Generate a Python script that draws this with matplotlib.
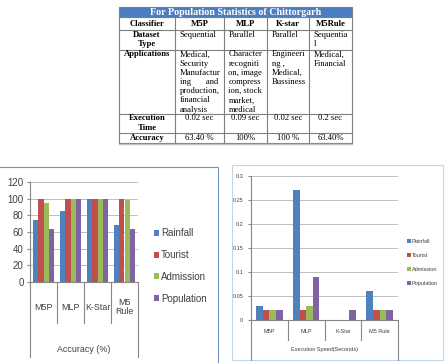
import matplotlib
matplotlib.use('Agg')
import matplotlib.pyplot as plt
import numpy as np
from matplotlib.patches import Rectangle
from matplotlib.ticker import FuncFormatter

# ---- table data ----
table_title = 'For Population Statistics of Chittorgarh'
classifiers = ['M5P', 'MLP', 'K-star', 'M5Rule']
row_labels = ['Dataset\nType', 'Applications', 'Execution\nTime', 'Accuracy']
dataset_type = ['Sequential', 'Parallel', 'Parallel', 'Sequentia\nl']
applications = ['Medical,\nSecurity\nManufactur\ning       and\nproduction,\nfinancial\nanalysis',
                'Character\nrecogniti\non, image\ncompress\nion, stock\nmarket,\nmedical',
                'Engineeri\nng ,\nMedical,\nBussiness',
                'Medical,\nFinancial']
exec_time = ['0.02 sec', '0.09 sec', '0.02 sec', '0.2 sec']
accuracy_txt = ['63.40 %', '100%', '100 %', '63.40%']

# ---- chart data ----
series = ['Rainfall', 'Tourist', 'Admission', 'Population']
colors = ['#4F81BD', '#C0504D', '#9BBB59', '#8064A2']

acc_models = ['M5P', 'MLP', 'K-Star', 'M5\nRule']
acc_rainfall = [74, 85, 100, 68]
acc_tourist = [100, 100, 100, 100]
acc_admission = [95, 100, 100, 98]
acc_population = [63.4, 100, 100, 63.4]

spd_models = ['M5P', 'MLP', 'K-Star', 'M5 Rule']
spd_rainfall = [0.03, 0.27, 0.0, 0.06]
spd_tourist = [0.02, 0.02, 0.0, 0.02]
spd_admission = [0.02, 0.03, 0.0, 0.02]
spd_population = [0.02, 0.09, 0.02, 0.02]

W, H = 445, 363
fig = plt.figure(figsize=(W / 100, H / 100), dpi=100)
sans = 'Liberation Sans'
serif = 'Liberation Serif'

# overlay in pixel coords for table + chart borders
ov = fig.add_axes([0, 0, 1, 1])
ov.set_xlim(0, W)
ov.set_ylim(H, 0)
ov.axis('off')

cols = [119, 175, 224, 267, 309, 352]
rows = [17, 30, 50, 114, 133, 143]
ov.add_patch(Rectangle((cols[0], 7), cols[-1] - cols[0], 10, facecolor='#4A7EC2', edgecolor='#7F7F7F', lw=0.8))
ov.text((cols[0] + cols[-1]) / 2, 12.3, table_title, color='white', fontweight='bold',
        family=serif, fontsize=7.2, ha='center', va='center')
lc = '#7F7F7F'
for y in rows:
    ov.plot([cols[0], cols[-1]], [y, y], color=lc, lw=0.8)
for x in cols:
    ov.plot([x, x], [rows[0], rows[-1]], color=lc, lw=0.8)
ov.plot([cols[0], cols[-1]], [rows[-1] + 0.8, rows[-1] + 0.8], color='#BFBFBF', lw=1.0)

fs = 6.2
ov.text((cols[0] + cols[1]) / 2, 23.5, 'Classifier', family=serif, fontweight='bold', fontsize=fs, ha='center', va='center')
for i, c in enumerate(classifiers):
    ov.text((cols[i + 1] + cols[i + 2]) / 2, 23.5, c, family=serif, fontweight='bold', fontsize=fs, ha='center', va='center')
lab_tops = [31, 50.5, 114.5, 134]
for lab, top in zip(row_labels, lab_tops):
    ov.text((cols[0] + cols[1]) / 2, top, lab, family=serif, fontweight='bold', fontsize=fs,
            ha='center', va='top', linespacing=1.2)
for i in range(4):
    x0 = cols[i + 1] + 4.5
    xc = (cols[i + 1] + cols[i + 2]) / 2
    ov.text(x0, 31, dataset_type[i], family=serif, fontsize=fs, ha='left', va='top', linespacing=1.2)
    ov.text(x0, 50.5, applications[i], family=serif, fontsize=fs, ha='left', va='top', linespacing=1.2)
    ov.text(xc, 114.5, exec_time[i], family=serif, fontsize=fs, ha='center', va='top')
    ov.text(xc, 134, accuracy_txt[i], family=serif, fontsize=fs, ha='center', va='top')

# chart borders
ov.add_patch(Rectangle((-2, 167), 220, 200, fill=False, edgecolor='#6F93C6', lw=0.8))
ov.add_patch(Rectangle((232, 165), 211, 195, fill=False, edgecolor='#C5D5E8', lw=0.8))


def grouped(ax, models, data, width, lab_y, inner, outer, title, title_y, tfs, title_fs):
    x = np.arange(len(models))
    for j, vals in enumerate(data):
        ax.bar(x + (j - 1.5) * width, vals, width, color=colors[j], label=series[j], zorder=3)
    ax.set_xlim(-0.5, len(models) - 0.5)
    ax.set_xticks([])
    for s in ['top', 'right']:
        ax.spines[s].set_visible(False)
    for s in ['left', 'bottom']:
        ax.spines[s].set_color('#868686')
        ax.spines[s].set_linewidth(0.8)
    ax.yaxis.grid(True, color='#BFBFBF', lw=0.7, zorder=0)
    ax.set_axisbelow(True)
    tr = ax.get_xaxis_transform()
    for b in np.arange(len(models) + 1) - 0.5:
        end = outer if b in (-0.5, len(models) - 0.5) else inner
        ax.plot([b, b], [0, end], color='#868686', lw=0.8, transform=tr, clip_on=False)
    for i, m in enumerate(models):
        ax.text(i, lab_y, m, transform=tr, ha='center', va='center', family=sans,
                fontsize=tfs, color='#404040', linespacing=0.95)
    ax.text((len(models) - 1) / 2, title_y, title, transform=tr, ha='center', va='center',
            family=sans, fontsize=title_fs, color='#404040')


ax1 = fig.add_axes([30 / W, 1 - 282 / H, 108 / W, 100 / H])
grouped(ax1, acc_models, [acc_rainfall, acc_tourist, acc_admission, acc_population], 0.19,
        -0.25, -0.41, -0.75, 'Accuracy (%)', -0.68, 6.4, 6.4)
ax1.set_ylim(0, 120)
ax1.set_yticks(np.arange(0, 121, 20))
ax1.tick_params(axis='y', length=2.5, width=0.8, color='#868686', labelsize=7, pad=2, labelcolor='#404040')
for t in ax1.get_yticklabels():
    t.set_family(sans)
h, l = ax1.get_legend_handles_labels()
fig.legend(h, l, loc='center left', bbox_to_anchor=(154 / W, 1 - 266 / H), frameon=False,
           prop={'family': sans, 'size': 7}, handlelength=0.55, handleheight=0.55,
           handletextpad=0.15, labelspacing=1.2, borderpad=0, borderaxespad=0, labelcolor='#404040')

ax2 = fig.add_axes([251 / W, 1 - 320 / H, 147 / W, 144 / H])
grouped(ax2, spd_models, [spd_rainfall, spd_tourist, spd_admission, spd_population], 0.18,
        -0.083, -0.139, -0.278, 'Execution Speed(Seconds)', -0.208, 4, 4)
ax2.set_ylim(0, 0.3)
ax2.set_yticks(np.arange(0, 0.301, 0.05))
ax2.yaxis.set_major_formatter(FuncFormatter(lambda v, p: f'{v:.2f}'.rstrip('0').rstrip('.')))
ax2.tick_params(axis='y', length=2.5, width=0.8, color='#868686', labelsize=4, pad=3, labelcolor='#404040')
for t in ax2.get_yticklabels():
    t.set_family(sans)
h, l = ax2.get_legend_handles_labels()
fig.legend(h, l, loc='center left', bbox_to_anchor=(407 / W, 1 - 262.5 / H), frameon=False,
           prop={'family': sans, 'size': 4}, handlelength=0.7, handleheight=0.7,
           handletextpad=0.2, labelspacing=1.6, borderpad=0, borderaxespad=0, labelcolor='#404040')

fig.savefig('out.png', dpi=100)
